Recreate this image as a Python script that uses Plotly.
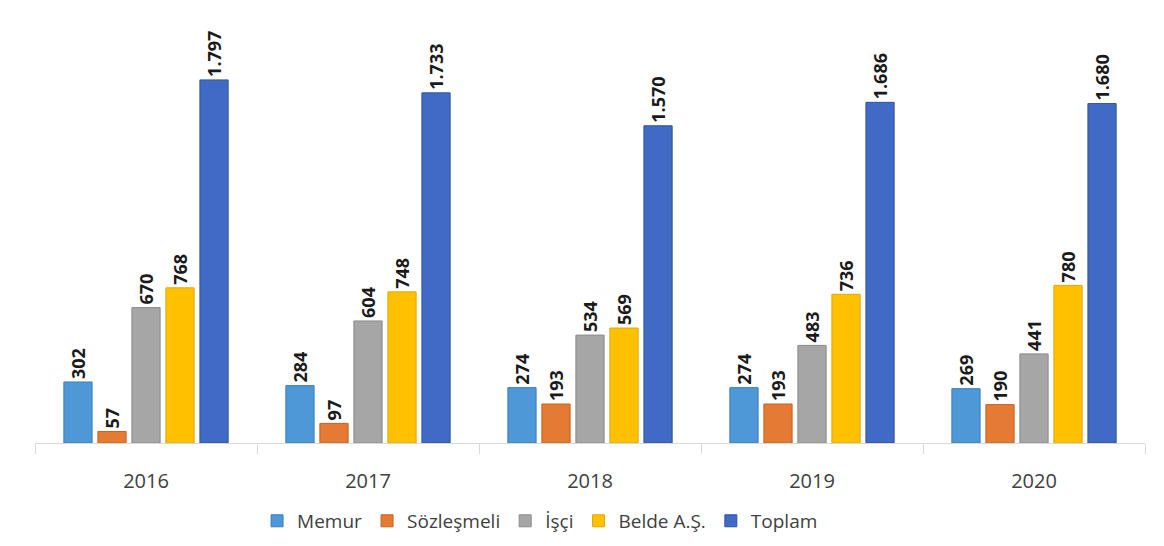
import plotly.graph_objects as go

years = ["2016", "2017", "2018", "2019", "2020"]
memur = [302, 284, 274, 274, 269]
sozlesmeli = [57, 97, 193, 193, 190]
isci = [670, 604, 534, 483, 441]
belde = [768, 748, 569, 736, 780]
toplam = [1797, 1733, 1570, 1686, 1680]

series = [
    ("Memur", memur, "#4F98D8", "#3A7DBE"),
    ("Sözleşmeli", sozlesmeli, "#E57A35", "#C4621F"),
    ("İşçi", isci, "#A6A6A6", "#8A8A8A"),
    ("Belde A.Ş.", belde, "#FFC000", "#E0A800"),
    ("Toplam", toplam, "#4169C6", "#2F5597"),
]


def fmt(v):
    return f"{v:,}".replace(",", ".")


fig = go.Figure()
for name, vals, color, edge in series:
    fig.add_trace(go.Bar(
        x=years, y=vals, name=name,
        marker=dict(color=color, line=dict(color=edge, width=1)),
        text=[fmt(v) for v in vals],
        textposition="outside",
        textangle=-90,
        cliponaxis=False,
        textfont=dict(family="Open Sans, sans-serif", size=18, color="#1a1a1a", weight="bold"),
    ))

fig.update_layout(
    width=1164, height=546,
    barmode="group",
    bargap=0.234,
    bargroupgap=0.17,
    paper_bgcolor="white",
    plot_bgcolor="white",
    margin=dict(l=27, r=27, t=2, b=111),
    font=dict(family="Open Sans, sans-serif", color="#404040"),
    showlegend=True,
    legend=dict(
        orientation="h", x=0.455, xanchor="center", y=-0.18, yanchor="middle",
        font=dict(size=19, color="#404040"),
        itemwidth=30, tracegroupgap=0,
    ),
    uniformtext=dict(minsize=18, mode="show"),
)
fig.update_xaxes(
    showline=True, linecolor="#D9D9D9", linewidth=1,
    ticks="outside", tickson="boundaries", ticklen=10, tickcolor="#D9D9D9",
    ticklabelstandoff=20,
    tickfont=dict(size=20, color="#404040"),
    showgrid=False,
)
fig.update_yaxes(visible=False, range=[0, 2143])

fig.write_html("out.html")
